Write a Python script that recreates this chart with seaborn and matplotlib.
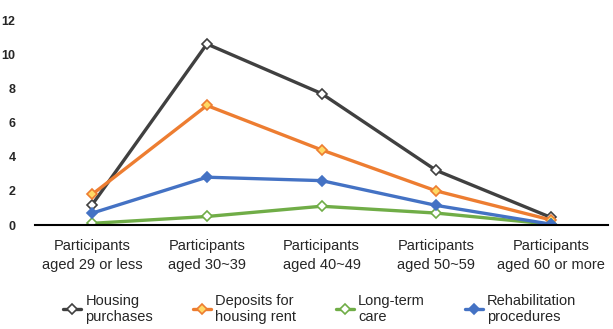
import matplotlib
matplotlib.use("Agg")
import matplotlib.pyplot as plt
import seaborn as sns
import pandas as pd

age_groups = [
    "Participants\naged 29 or less",
    "Participants\naged 30~39",
    "Participants\naged 40~49",
    "Participants\naged 50~59",
    "Participants\naged 60 or more",
]
series_names = [
    "Housing\npurchases",
    "Deposits for\nhousing rent",
    "Long-term\ncare",
    "Rehabilitation\nprocedures",
]
housing_purchases = [1.2, 10.6, 7.7, 3.2, 0.45]
housing_rent_deposits = [1.8, 7.0, 4.4, 2.0, 0.3]
long_term_care = [0.1, 0.5, 1.1, 0.7, 0.05]
rehabilitation = [0.7, 2.8, 2.6, 1.15, 0.05]
y_ticks = [0, 2, 4, 6, 8, 10, 12]

colors = ["#404040", "#ED7D31", "#70AD47", "#4472C4"]
fills = ["white", "#FFD966", "white", "#4472C4"]

all_values = [housing_purchases, housing_rent_deposits, long_term_care, rehabilitation]
df = pd.DataFrame({
    "x": [i for _ in all_values for i in range(len(age_groups))],
    "value": [v for vals in all_values for v in vals],
    "series": [name for name, vals in zip(series_names, all_values) for _ in vals],
})

sns.set_style("white")
plt.rcParams["font.family"] = ["Liberation Sans", "DejaVu Sans"]

fig = plt.figure(figsize=(6.13, 3.29), dpi=100)
ax = fig.add_axes([0.057, 0.316, 0.935, 0.623])

for name, color, fill in zip(series_names, colors, fills):
    sub = df[df["series"] == name]
    sns.lineplot(data=sub, x="x", y="value", ax=ax, color=color, linewidth=2.4,
                 marker="D", markersize=5, markerfacecolor=fill,
                 markeredgecolor=color, markeredgewidth=1.2, label=name)

ax.set_xlim(-0.5, len(age_groups) - 0.5)
ax.set_ylim(0, 12)
ax.set_xticks(range(len(age_groups)))
ax.set_xticklabels(age_groups, fontsize=10.5, linespacing=1.45)
ax.set_yticks(y_ticks)
ax.set_yticklabels([str(t) for t in y_ticks], fontsize=9, fontweight="bold")
ax.tick_params(axis="y", length=0, pad=14)
ax.tick_params(axis="x", length=0, pad=10)
ax.set_xlabel("")
ax.set_ylabel("")
for side in ["top", "right", "left"]:
    ax.spines[side].set_visible(False)
ax.spines["bottom"].set_color("black")
ax.spines["bottom"].set_linewidth(1.5)

ax.legend(loc="upper center", bbox_to_anchor=(0.497, -0.335), ncol=4, frameon=False,
          fontsize=10.5, handlelength=1.2, handletextpad=0.3, columnspacing=2.75,
          labelspacing=0.2, borderpad=0, borderaxespad=0)

fig.savefig("out.png", dpi=100)
